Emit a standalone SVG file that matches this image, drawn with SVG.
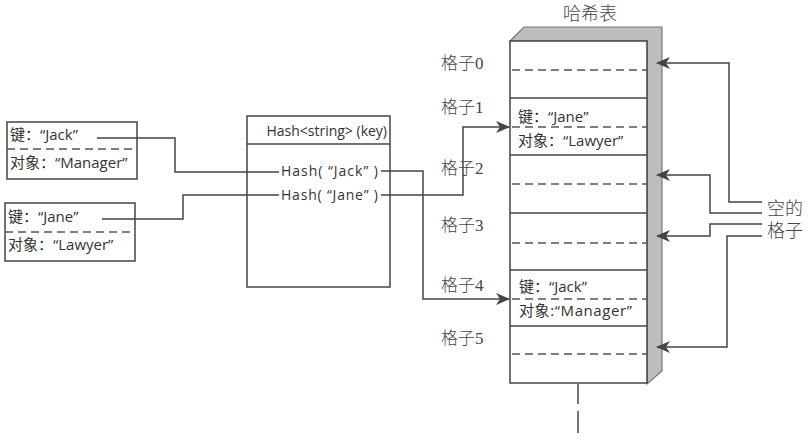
<svg xmlns="http://www.w3.org/2000/svg" width="808" height="441" viewBox="0 0 808 441">
<defs>
<style>
.ln{fill:none;stroke:#444;stroke-width:1.5}
.bx{fill:#fff;stroke:#444;stroke-width:1.5}
.ds{fill:none;stroke:#555;stroke-width:1.5;stroke-dasharray:8 5}
.t{font-family:"Open Sans","Noto Sans CJK SC",sans-serif;fill:#333}
.s{font-family:"Liberation Serif","Noto Sans CJK SC",serif;fill:#444;font-weight:300}
</style>
<marker id="ah" markerWidth="14" markerHeight="12" refX="13" refY="6" orient="auto" markerUnits="userSpaceOnUse">
<path d="M0,0 L14,6 L0,12 L4,6 Z" fill="#444"/>
</marker>
</defs>
<rect width="808" height="441" fill="#fff"/>

<g id="key-jack">
<rect class="bx" x="7" y="122" width="130" height="57"/>
<line class="ds" x1="7" y1="149" x2="137" y2="149"/>
<text class="t" x="10" y="140" font-size="15">键：“Jack”</text>
<text class="t" x="10" y="168" font-size="15">对象：“Manager”</text>
</g>

<g id="key-jane">
<rect class="bx" x="5" y="203" width="130" height="58"/>
<line class="ds" x1="5" y1="232" x2="135" y2="232"/>
<text class="t" x="8" y="222" font-size="15">键：“Jane”</text>
<text class="t" x="8" y="250" font-size="15">对象：“Lawyer”</text>
</g>

<g id="hash-func">
<rect class="bx" x="247" y="116" width="143" height="171"/>
<line class="ln" x1="247" y1="144" x2="390" y2="144"/>
<text class="t" x="387" y="136" font-size="14" text-anchor="end">Hash&lt;string&gt; (key)</text>
<text class="t" x="281" y="176" font-size="14" textLength="97" lengthAdjust="spacing">Hash( “Jack” )</text>
<text class="t" x="281" y="200" font-size="14" textLength="97" lengthAdjust="spacing">Hash( “Jane” )</text>
</g>

<g id="hash-table">
<text class="s" x="590" y="20" font-size="18" text-anchor="middle">哈希表</text>
<polygon points="510,41 524,27 662,27 662,371 647,384 647,41" fill="#bdbdbd" stroke="#777" stroke-width="1.2"/>
<rect class="bx" x="510" y="41" width="137" height="342"/>
<line class="ln" x1="510" y1="98" x2="647" y2="98"/>
<line class="ln" x1="510" y1="155" x2="647" y2="155"/>
<line class="ln" x1="510" y1="213" x2="647" y2="213"/>
<line class="ln" x1="510" y1="270" x2="647" y2="270"/>
<line class="ln" x1="510" y1="326" x2="647" y2="326"/>
<line class="ds" x1="512" y1="70" x2="647" y2="70"/>
<line class="ds" x1="512" y1="127" x2="647" y2="127"/>
<line class="ds" x1="512" y1="184" x2="647" y2="184"/>
<line class="ds" x1="512" y1="243" x2="647" y2="243"/>
<line class="ds" x1="512" y1="299" x2="647" y2="299"/>
<line class="ds" x1="512" y1="354" x2="647" y2="354"/>
<text class="t" x="518" y="122" font-size="15">键：“Jane”</text>
<text class="t" x="518" y="146" font-size="15">对象：“Lawyer”</text>
<text class="t" x="519" y="292" font-size="15">键：“Jack”</text>
<text class="t" x="519" y="316" font-size="15" textLength="113" lengthAdjust="spacing">对象:“Manager”</text>
<line class="ln" x1="578" y1="384" x2="578" y2="404"/>
<line class="ln" x1="578" y1="411" x2="578" y2="433"/>
</g>

<g id="slot-labels">
<text class="s" x="441" y="69" font-size="17">格子0</text>
<text class="s" x="441" y="113" font-size="17">格子1</text>
<text class="s" x="441" y="174" font-size="17">格子2</text>
<text class="s" x="441" y="231" font-size="17">格子3</text>
<text class="s" x="441" y="291" font-size="17">格子4</text>
<text class="s" x="441" y="344" font-size="17">格子5</text>
</g>

<g id="empty-label">
<text class="s" x="767" y="215" font-size="18">空的</text>
<text class="s" x="767" y="237" font-size="18">格子</text>
</g>

<g id="connectors">
<polyline class="ln" points="97,138 175,138 175,172 279,172"/>
<polyline class="ln" points="102,219 183,219 183,195 279,195"/>
<polyline class="ln" points="381,195 463,195 463,127 509,127" marker-end="url(#ah)"/>
<polyline class="ln" points="381,171 423,171 423,299 509,299" marker-end="url(#ah)"/>
<polyline class="ln" points="762,202 729,202 729,63 657,63" marker-end="url(#ah)"/>
<polyline class="ln" points="762,213 710,213 710,175 657,175" marker-end="url(#ah)"/>
<polyline class="ln" points="762,224 710,224 710,236 657,236" marker-end="url(#ah)"/>
<polyline class="ln" points="762,236 727,236 727,347 657,347" marker-end="url(#ah)"/>
</g>
</svg>
